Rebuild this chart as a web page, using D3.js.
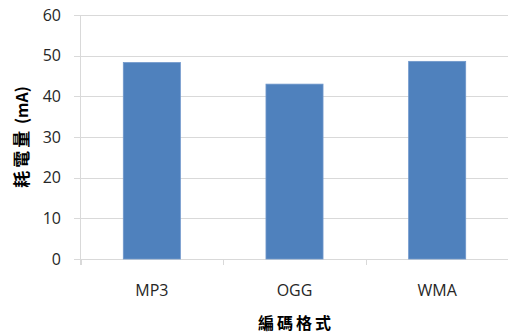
<!DOCTYPE html>
<html><head><meta charset="utf-8">
<script src="https://cdn.jsdelivr.net/npm/d3@7"></script>
<style>body{margin:0;background:#fff;}svg{display:block;}</style>
</head><body>
<script>
const categories = ["MP3", "OGG", "WMA"];
const values = [48.3, 43.0, 48.6];
const yTicks = [0, 10, 20, 30, 40, 50, 60];
const yTitleCJK = "耗電量";
const yTitleUnit = " (mA)";
const xTitle = "編碼格式";

const W = 508, H = 334;
const m = {left: 80.5, right: 0, top: 15, bottom: 75};
const svg = d3.select("body").append("svg").attr("width", W).attr("height", H);

const x = d3.scaleBand().domain(categories).range([m.left, 508.5]).paddingInner(0.6).paddingOuter(0.3);
const y = d3.scaleLinear().domain([0, 60]).range([259, 15]);

// gridlines
svg.append("g").selectAll("line").data(yTicks).join("line")
  .attr("x1", 74).attr("x2", W)
  .attr("y1", d => Math.round(y(d)) + 0.5).attr("y2", d => Math.round(y(d)) + 0.5)
  .attr("stroke", "#d9d9d9").attr("stroke-width", 1);

// y axis line
svg.append("line").attr("x1", 80.5).attr("x2", 80.5).attr("y1", 15).attr("y2", 265)
  .attr("stroke", "#d9d9d9");

// x ticks
const xEdges = [0, 1, 2, 3].map(i => 80.5 + i * x.step());
svg.append("g").selectAll("line").data(xEdges).join("line")
  .attr("x1", d => Math.round(d) + 0.5).attr("x2", d => Math.round(d) + 0.5)
  .attr("y1", 259).attr("y2", 265).attr("stroke", "#d9d9d9");

// y tick labels
svg.append("g").selectAll("text").data(yTicks).join("text")
  .attr("x", 61).attr("y", d => y(d)).attr("dy", "0.36em")
  .attr("text-anchor", "end").attr("font-family", "Open Sans, sans-serif")
  .attr("font-size", 16).attr("fill", "#262626").text(d => d);

// bars
svg.append("g").selectAll("rect").data(values).join("rect")
  .attr("x", (d, i) => x(categories[i]))
  .attr("y", d => y(d))
  .attr("width", x.bandwidth())
  .attr("height", d => y(0) - y(d))
  .attr("fill", "#4f81bd").attr("stroke", "#7098cb").attr("stroke-width", 0.8);

// x tick labels
svg.append("g").selectAll("text").data(categories).join("text")
  .attr("x", d => x(d) + x.bandwidth() / 2).attr("y", 296)
  .attr("text-anchor", "middle").attr("font-family", "Open Sans, sans-serif")
  .attr("font-size", 16).attr("fill", "#262626").text(d => d);

// titles
svg.append("text").attr("x", 296).attr("y", 329).attr("text-anchor", "middle")
  .attr("font-family", "Noto Sans CJK TC, sans-serif").attr("font-weight", "bold")
  .attr("font-size", 16).attr("letter-spacing", 3).attr("fill", "#000").text(xTitle);

const yt = svg.append("text").attr("transform", "translate(28,137) rotate(-90)")
  .attr("text-anchor", "middle")
  .attr("font-family", "Noto Sans CJK TC, sans-serif").attr("font-weight", "bold")
  .attr("font-size", 16).attr("fill", "#000");
yt.append("tspan").attr("font-size", 17).attr("letter-spacing", 3).text(yTitleCJK);
yt.append("tspan").text(yTitleUnit);
</script>
</body></html>
